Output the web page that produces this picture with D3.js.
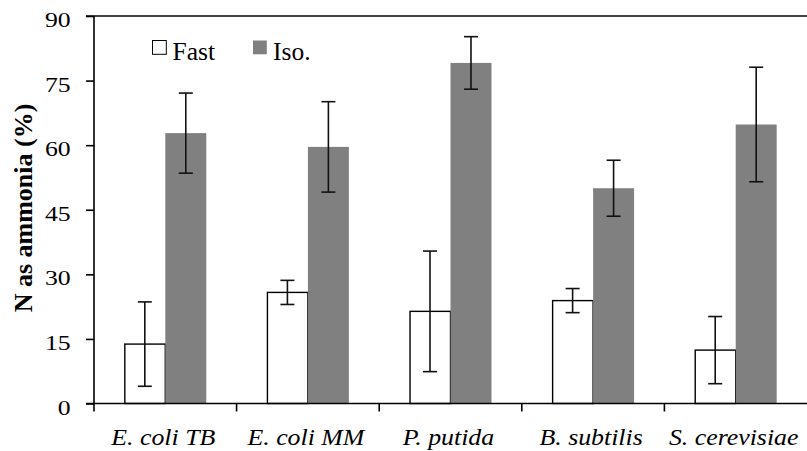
<!DOCTYPE html>
<html>
<head>
<meta charset="utf-8">
<script src="https://cdn.jsdelivr.net/npm/d3@7"></script>
<style>
  html, body { margin: 0; padding: 0; background: #fff; }
  svg { display: block; }
</style>
</head>
<body>
<svg id="chart" width="807" height="451"></svg>
<script>
const categories = ["E. coli TB", "E. coli MM", "P. putida", "B. subtilis", "S. cerevisiae"];
const series = ["Fast", "Iso."];
const fastValues = [13.8, 25.8, 21.4, 23.9, 12.4];
const fastErrors = [9.8, 2.8, 14.0, 2.8, 7.8];
const isoValues = [62.8, 59.6, 79.1, 50.0, 64.8];
const isoErrors = [9.3, 10.5, 6.1, 6.5, 13.3];
const yTicks = [0, 15, 30, 45, 60, 75, 90];
const yLabel = "N as ammonia (%)";

const FONT = "'Liberation Serif'";
const W = 807, H = 451;
const margin = { left: 94, right: 0, top: 16, bottom: 47.5 };
const svg = d3.select("#chart");

const x0 = d3.scaleBand().domain(categories).range([margin.left, W - margin.right]).padding(0);
const x1 = d3.scaleBand().domain(series).range([0, x0.bandwidth()]).paddingInner(0).paddingOuter(0.74);
const y = d3.scaleLinear().domain([0, 90]).range([H - margin.bottom, margin.top]);

const colors = { "Fast": "#ffffff", "Iso.": "#808080" };
const rows = categories.map((c, i) => ({
  cat: c,
  items: [
    { s: "Fast", v: fastValues[i], e: fastErrors[i] },
    { s: "Iso.", v: isoValues[i], e: isoErrors[i] }
  ]
}));

// top border line
svg.append("line")
  .attr("x1", margin.left - 8).attr("x2", W)
  .attr("y1", y(90)).attr("y2", y(90))
  .attr("stroke", "#444").attr("stroke-width", 2);

// bars
const g = svg.append("g");
const groups = g.selectAll("g.cat").data(rows).join("g")
  .attr("transform", d => `translate(${x0(d.cat)},0)`);

groups.selectAll("rect").data(d => d.items).join("rect")
  .attr("x", d => x1(d.s) + (d.s === "Fast" ? 0.5 : 0))
  .attr("width", d => x1.bandwidth() - (d.s === "Fast" ? 0.5 : 0))
  .attr("y", d => y(d.v))
  .attr("height", d => y(0) - y(d.v))
  .attr("fill", d => colors[d.s])
  .attr("stroke", d => d.s === "Fast" ? "#000" : "none")
  .attr("stroke-width", 1.4);

// error bars
const capW = 7;
const eb = groups.selectAll("g.err").data(d => d.items).join("g").attr("class", "err");
const cx = d => x1(d.s) + x1.bandwidth() / 2;
eb.append("line")
  .attr("x1", cx).attr("x2", cx)
  .attr("y1", d => y(d.v + d.e)).attr("y2", d => y(d.v - d.e))
  .attr("stroke", "#111").attr("stroke-width", 1.6);
eb.append("line")
  .attr("x1", d => cx(d) - capW).attr("x2", d => cx(d) + capW)
  .attr("y1", d => y(d.v + d.e)).attr("y2", d => y(d.v + d.e))
  .attr("stroke", "#111").attr("stroke-width", 1.6);
eb.append("line")
  .attr("x1", d => cx(d) - capW).attr("x2", d => cx(d) + capW)
  .attr("y1", d => y(d.v - d.e)).attr("y2", d => y(d.v - d.e))
  .attr("stroke", "#111").attr("stroke-width", 1.6);

// y axis
const yAxis = svg.append("g")
  .attr("transform", `translate(${margin.left},0)`)
  .call(d3.axisLeft(y).tickValues(yTicks).tickSize(8).tickPadding(15).tickSizeOuter(0));
yAxis.attr("font-family", null);
yAxis.select(".domain").attr("d", `M0,${y(90)}V${y(0) + 8}`).attr("stroke", "#000").attr("stroke-width", 1.6);
yAxis.selectAll(".tick line").attr("stroke", "#000").attr("stroke-width", 1.6);
yAxis.selectAll(".tick text")
  .attr("x", 0).attr("dy", null).attr("y", 10.5)
  .attr("transform", "translate(-23.3,0) scale(1.17,1)")
  .attr("font-family", "Liberation Serif")
  .style("font-family", FONT).style("font-size", "22px").attr("fill", "#000");

// x axis
const xAxis = svg.append("g")
  .attr("transform", `translate(0,${y(0)})`);
xAxis.append("line").attr("x1", margin.left - 8).attr("x2", W).attr("y1", 0).attr("y2", 0)
  .attr("stroke", "#000").attr("stroke-width", 1.6);
const boundaries = categories.slice(1).map(c => x0(c));
xAxis.selectAll("line.tk").data(boundaries).join("line").attr("class", "tk")
  .attr("x1", d => d).attr("x2", d => d).attr("y1", 0).attr("y2", 8)
  .attr("stroke", "#000").attr("stroke-width", 1.6);
xAxis.selectAll("text.cl").data(categories).join("text").attr("class", "cl")
  .attr("transform", d => `translate(${x0(d) + x0.bandwidth() / 2 - 2},41.5) scale(1.1,1)`)
  .attr("text-anchor", "middle")
  .attr("font-family", "Liberation Serif")
  .style("font-family", FONT)
  .style("font-style", "italic").style("font-size", "23.5px")
  .text(d => d);

// y label
svg.append("text")
  .attr("transform", `translate(31.5,208) rotate(-90)`)
  .attr("text-anchor", "middle")
  .attr("font-family", "Liberation Serif")
  .style("font-family", FONT)
  .style("font-weight", "bold").style("font-size", "26px")
  .text(yLabel);

// legend
const legendX = [152.5, 253];
const lg = svg.append("g").selectAll("g").data(series).join("g")
  .attr("transform", (d, i) => `translate(${legendX[i]},40.5)`);
lg.append("rect").attr("width", 13.8).attr("height", 13.8)
  .attr("fill", d => colors[d])
  .attr("stroke", d => d === "Fast" ? "#000" : "none").attr("stroke-width", 1);
lg.append("text").attr("x", 20).attr("y", 19.5)
  .attr("font-family", "Liberation Serif")
  .style("font-family", FONT)
  .style("font-size", "25.5px").text(d => d);
</script>
</body>
</html>
